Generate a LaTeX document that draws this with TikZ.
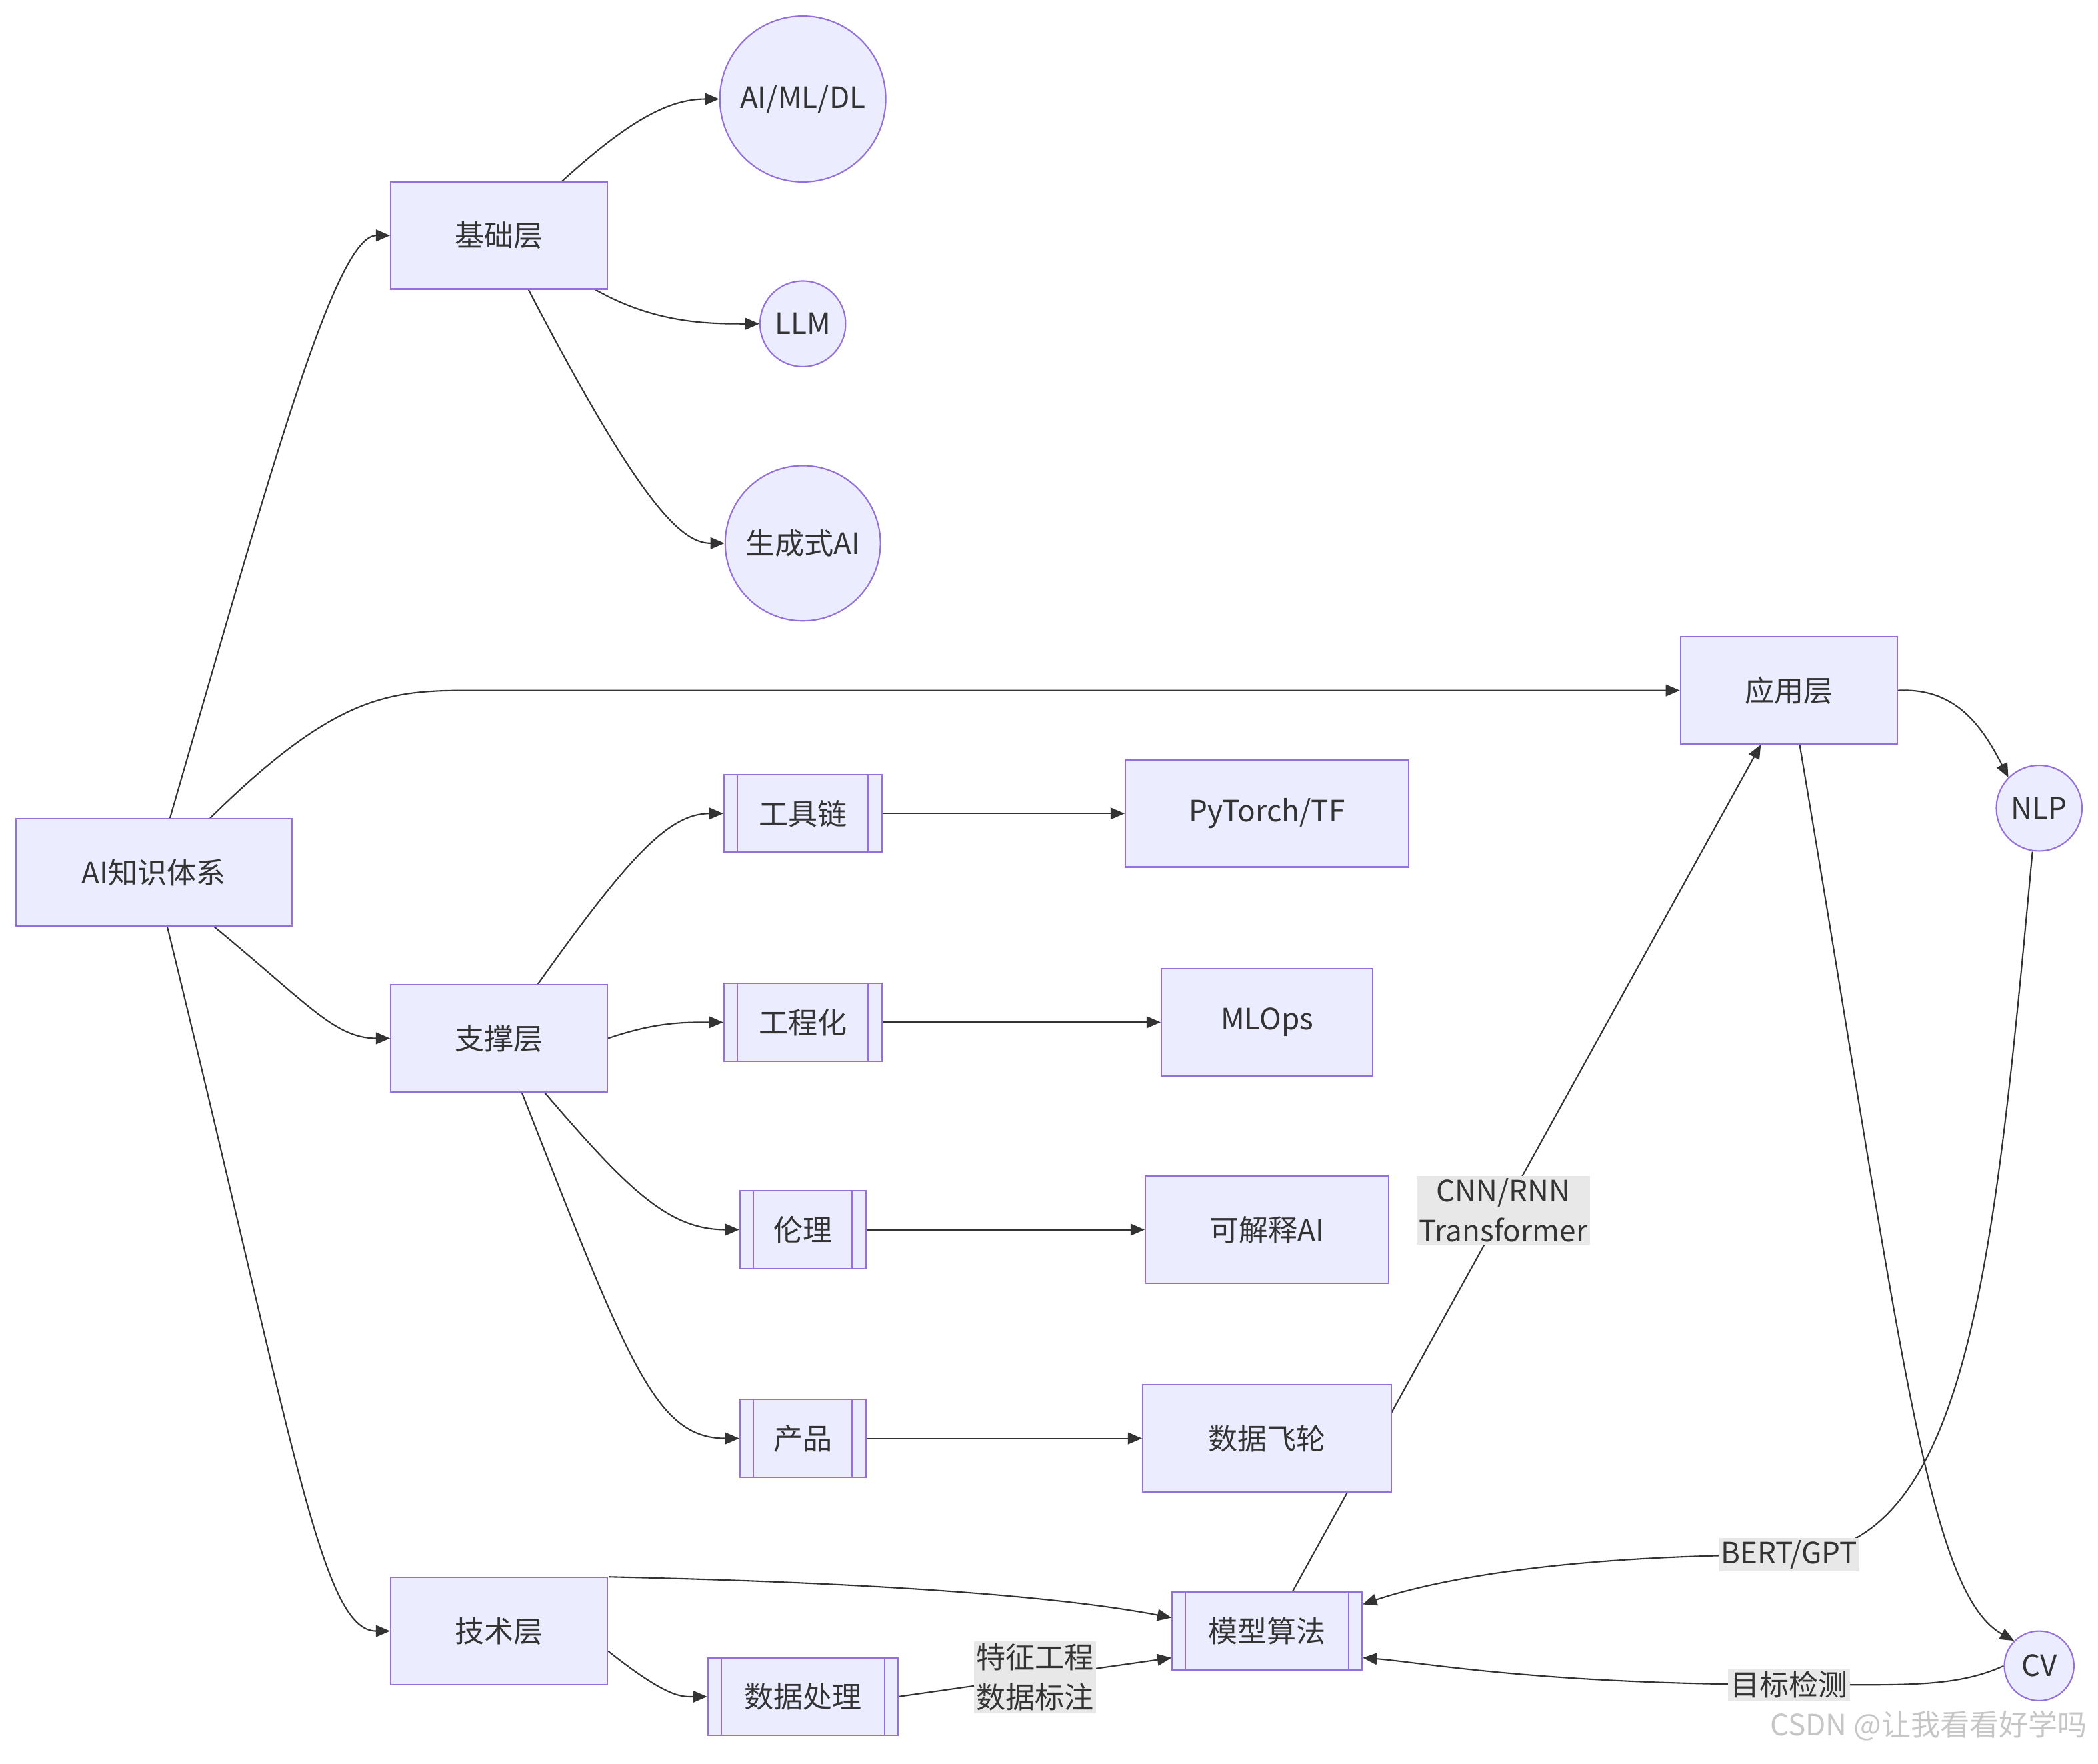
\documentclass[tikz,border=0pt]{standalone}
\usepackage{fontspec}
\setmainfont{Noto Sans CJK SC}
\usetikzlibrary{positioning,arrows.meta,backgrounds}
\definecolor{boxfill}{HTML}{ECECFF}
\definecolor{boxline}{HTML}{9370DB}
\definecolor{ink}{HTML}{333333}
\definecolor{lblbg}{HTML}{E8E8E8}
\begin{document}
\begin{tikzpicture}[x=0.02cm,y=-0.02cm,
    font=\fontsize{12.5}{17}\selectfont, text=ink,
    box/.style={draw=boxline, fill=boxfill, rectangle, line width=0.6pt, minimum height=1.6cm},
    sub/.style={box, minimum height=1.16cm, path picture={
        \draw[boxline, line width=0.6pt] ([xshift=0.2cm]path picture bounding box.north west) -- ([xshift=0.2cm]path picture bounding box.south west);
        \draw[boxline, line width=0.6pt] ([xshift=-0.2cm]path picture bounding box.north east) -- ([xshift=-0.2cm]path picture bounding box.south east);}},
    circ/.style={draw=boxline, fill=boxfill, circle, line width=0.6pt, inner sep=0pt},
    lbl/.style={fill=lblbg, inner sep=1pt, align=center},
    arrow/.style={-{Triangle[length=6pt,width=5pt]}, ink, line width=0.6pt}
]
    \useasboundingbox (0,0) rectangle (1568,1318);
    % Nodes
    \node[box, minimum width=4.12cm] (root) at (115,652) {AI知识体系};
    \node[box, minimum width=3.24cm] (base) at (373,176) {基础层};
    \node[box, minimum width=3.24cm] (support) at (373,776) {支撑层};
    \node[box, minimum width=3.24cm] (tech) at (373,1219) {技术层};
    \node[box, minimum width=3.24cm] (app) at (1337,516) {应用层};

    \node[circ, minimum size=2.48cm] (aimldl) at (600,74) {AI/ML/DL};
    \node[circ, minimum size=1.28cm] (llm) at (600,242) {LLM};
    \node[circ, minimum size=2.32cm] (genai) at (600,406) {生成式AI};
    \node[circ, minimum size=1.28cm] (nlp) at (1524,604) {NLP};
    \node[circ, minimum size=1.04cm] (cv) at (1524,1245) {CV};

    \node[sub, minimum width=2.36cm] (tools) at (600,608) {工具链};
    \node[sub, minimum width=2.36cm] (eng) at (600,764) {工程化};
    \node[sub, minimum width=1.88cm] (ethics) at (600,919) {伦理};
    \node[sub, minimum width=1.88cm] (product) at (600,1075) {产品};
    \node[sub, minimum width=2.84cm] (dataproc) at (600,1268) {数据处理};
    \node[sub, minimum width=2.84cm] (model) at (947,1219) {模型算法};

    \node[box, minimum width=4.24cm] (pytorch) at (947,608) {PyTorch/TF};
    \node[box, minimum width=3.16cm] (mlops) at (947,764) {MLOps};
    \node[box, minimum width=3.64cm] (xai) at (947,919) {可解释AI};
    \node[box, minimum width=3.72cm] (flywheel) at (947,1075) {数据飞轮};

    \node[text=gray!45, anchor=east] (mark) at (1566,1290) {CSDN @让我看看好学吗};

    % Arrows
    \begin{scope}[on background layer]
    \draw[arrow] ([xshift=0.24cm]root.north) .. controls (200,360) and (250,176) .. (base.west);
    \draw[arrow] ([xshift=0.84cm]root.north) .. controls (250,520) and (290,516) .. (350,516) -- (app.west);
    \draw[arrow] ([xshift=0.9cm]root.south) .. controls (230,750) and (250,776) .. (support.west);
    \draw[arrow] ([xshift=0.2cm]root.south) .. controls (220,1080) and (240,1219) .. (tech.west);
    \draw[arrow] ([xshift=0.94cm]base.north) .. controls (470,90) and (500,74) .. (aimldl.west);
    \draw[arrow] ([xshift=1.44cm]base.south) .. controls (490,242) and (530,242) .. (llm.west);
    \draw[arrow] ([xshift=0.44cm]base.south) .. controls (480,380) and (510,406) .. (genai.west);
    \draw[arrow] ([xshift=0.58cm]support.north) .. controls (470,640) and (500,608) .. (tools.west);
    \draw[arrow] (support.east) .. controls (490,764) and (510,764) .. (eng.west);
    \draw[arrow] ([xshift=0.68cm]support.south) .. controls (470,890) and (500,919) .. (ethics.west);
    \draw[arrow] ([xshift=0.34cm]support.south) .. controls (470,1020) and (490,1075) .. (product.west);
    \draw[arrow] (tools.east) -- (pytorch.west);
    \draw[arrow] (eng.east) -- (mlops.west);
    \draw[arrow] (ethics.east) -- (xai.west);
    \draw[arrow] (product.east) -- (flywheel.west);
    \draw[arrow] (app.east) .. controls (1460,514) and (1480,540) .. (nlp.north west);
    \draw[arrow] ([xshift=0.16cm]app.south) .. controls (1420,1000) and (1440,1190) .. (cv.north west);
    \draw[arrow] ([xshift=1.64cm]tech.north) .. controls (520,1180) and (750,1185) .. ([yshift=0.2cm]model.west);
    \draw[arrow] ([yshift=-0.3cm]tech.east) .. controls (500,1270) and (510,1268) .. (dataproc.west);
    \draw[arrow] (dataproc.east) -- node[lbl] {特征工程\\数据标注} ([yshift=-0.4cm]model.west);
    \draw[arrow] ([xshift=0.38cm]model.north) -- node[lbl, pos=0.45] {CNN/RNN\\Transformer} ([xshift=-0.42cm]app.south);
    \draw[arrow] ([xshift=-0.1cm]nlp.south) .. controls (1490,950) and (1470,1162) .. (1337,1162) node[lbl] {BERT/GPT} .. controls (1150,1162) and (1060,1185) .. ([yshift=0.4cm]model.east);
    \draw[arrow] (cv.west) .. controls (1460,1262) and (1420,1259) .. (1337,1259) node[lbl] {目标检测} .. controls (1150,1259) and (1060,1242) .. ([yshift=-0.4cm]model.east);
    \end{scope}
\end{tikzpicture}
\end{document}
